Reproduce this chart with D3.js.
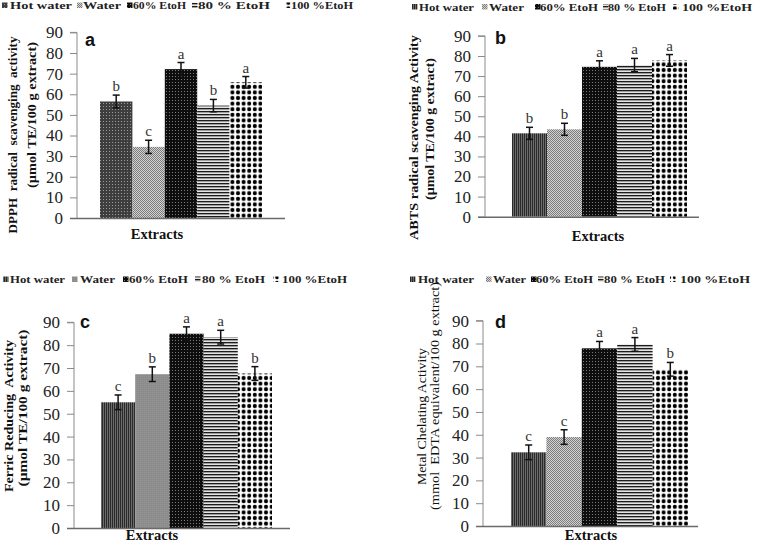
<!DOCTYPE html>
<html><head><meta charset="utf-8">
<script src="https://cdn.jsdelivr.net/npm/d3@7"></script>
<style>body{margin:0;background:#fff} svg{display:block} text{white-space:pre}</style>
</head><body><svg id="c" width="761" height="544"></svg>
<script>
// ---------- data ----------
const categories = ["Hot water", "Water", "60% EtoH", "80 % EtoH", "100 %EtoH"];
const yTicks = [0, 10, 20, 30, 40, 50, 60, 70, 80, 90];

const dpphValues = [56.5, 34.5, 72.2, 54.5, 65.8];
const dpphErrors = [3.1, 3.2, 3.2, 3.0, 2.8];
const dpphLetters = ["b", "c", "a", "b", "a"];

const abtsValues = [41.5, 43.5, 74.6, 75.5, 77.8];
const abtsErrors = [3.0, 3.0, 3.0, 3.3, 2.9];
const abtsLetters = ["b", "b", "a", "a", "a"];

const frapValues = [55.0, 67.3, 85.0, 83.5, 67.6];
const frapErrors = [3.2, 3.2, 3.0, 3.0, 3.0];
const frapLetters = ["c", "b", "a", "a", "b"];

const chelValues = [32.3, 39.0, 77.9, 79.6, 68.7];
const chelErrors = [3.2, 3.2, 3.0, 3.0, 3.0];
const chelLetters = ["c", "c", "a", "a", "b"];

const panelLetters = ["a", "b", "c", "d"];
const xTitle = "Extracts";
const yTitlesA = ["DPPH  radical  scavenging  activity", "(µmol TE/100 g extract)"];
const yTitlesB = ["ABTS radical scavenging Activity", "(µmol TE/100 g extract)"];
const yTitlesC = ["Ferric Reducing  Activity", "(µmol TE/100 g extract)"];
const yTitlesD = ["Metal Chelating Activity", "(mmol  EDTA equivalent/100 g extract)"];

// ---------- layout / style ----------
const svg = d3.select("#c");
const defs = svg.append("defs");
const serif = "'Liberation Serif','Times New Roman',serif";
const sans = "'Liberation Sans',Arial,sans-serif";

function pat(id, w, h, draw) {
  const p = defs.append("pattern").attr("id", id).attr("patternUnits", "userSpaceOnUse")
    .attr("width", w).attr("height", h);
  draw(p);
}
pat("hotA", 3, 3, p => { p.append("rect").attr("width", 3).attr("height", 3).attr("fill", "#3e3e3e");
  p.append("rect").attr("x", 1).attr("y", 1).attr("width", 1).attr("height", 1).attr("fill", "#9a9a9a"); });
pat("hotV", 2, 2, p => { p.append("rect").attr("width", 1).attr("height", 2).attr("fill", "#2a2a2a");
  p.append("rect").attr("x", 1).attr("width", 1).attr("height", 2).attr("fill", "#6c6c6c"); });
pat("waterChk", 2, 2, p => { p.append("rect").attr("width", 2).attr("height", 2).attr("fill", "#d2d2d2");
  p.append("rect").attr("width", 1).attr("height", 1).attr("fill", "#7c7c7c");
  p.append("rect").attr("x", 1).attr("y", 1).attr("width", 1).attr("height", 1).attr("fill", "#7c7c7c"); });
pat("waterSolid", 2, 2, p => { p.append("rect").attr("width", 2).attr("height", 2).attr("fill", "#8c8c8c");
  p.append("rect").attr("width", 1).attr("height", 1).attr("fill", "#959595"); });
pat("e60", 3, 3, p => { p.append("rect").attr("width", 3).attr("height", 3).attr("fill", "#0e0e0e");
  p.append("rect").attr("x", 1).attr("y", 1).attr("width", 1).attr("height", 1).attr("fill", "#7a7a7a"); });
pat("e80", 3, 3, p => { p.append("rect").attr("width", 3).attr("height", 3).attr("fill", "#e4e4e4");
  p.append("rect").attr("width", 3).attr("height", 1.2).attr("fill", "#1c1c1c");
  p.append("rect").attr("y", 1.2).attr("width", 3).attr("height", 0.6).attr("fill", "#888"); });
pat("e100", 5.6, 5.6, p => { p.append("rect").attr("width", 5.6).attr("height", 5.6).attr("fill", "#fff");
  p.append("circle").attr("cx", 2.8).attr("cy", 2.8).attr("r", 2.05).attr("fill", "#000"); });

const panels = [
  { values: dpphValues, errors: dpphErrors, letters: dpphLetters, titles: yTitlesA, titleBold: [true, true],
    fills: ["hotA", "waterChk", "e60", "e80", "e100"],
    ax: 77, y0: 218, y90: 32.4, barL: 100, barR: 262, xStart: 70, xEnd: 285,
    letterPos: [85, 46], extracts: [157, 239],
    t1: [12, 135, 197, 13.5], t2: [31, 115, 146, 13.5],
    legY: 9, leg: [[2, 10, 72], [77, 83, 121], [127, 133, 186], [192, 198, 270], [285, 291, 353]] },
  { values: abtsValues, errors: abtsErrors, letters: abtsLetters, titles: yTitlesB, titleBold: [true, true],
    fills: ["hotV", "waterChk", "e60", "e80", "e100"],
    ax: 485, y0: 216.7, y90: 35.9, barL: 512, barR: 687, xStart: 478, xEnd: 699,
    letterPos: [495, 44], extracts: [598, 240.5],
    t1: [413, 137.5, 205, 13.5], t2: [429, 129, 142, 13.5],
    legY: 10.5, leg: [[412, 419, 474], [482, 489, 524], [535, 540, 598], [603, 608, 666], [673, 682, 752]] },
  { values: frapValues, errors: frapErrors, letters: frapLetters, titles: yTitlesC, titleBold: [true, true],
    fills: ["hotV", "waterSolid", "e60", "e80", "e100"],
    ax: 74, y0: 528, y90: 322.3, barL: 101, barR: 272, xStart: 67, xEnd: 290,
    letterPos: [80, 328], extracts: [152, 540],
    t1: [8, 416, 152, 13.5], t2: [22, 408, 157, 13.5],
    legY: 283, leg: [[3, 10, 65], [72, 80, 115], [123, 129, 188], [195, 202, 265], [273, 282, 347]] },
  { values: chelValues, errors: chelErrors, letters: chelLetters, titles: yTitlesD, titleBold: [false, false],
    fills: ["hotV", "waterChk", "e60", "e80", "e100"],
    ax: 483, y0: 526, y90: 320.7, barL: 511, barR: 688, xStart: 476, xEnd: 698,
    letterPos: [495, 328], extracts: [591, 540],
    t1: [422, 416.5, 137, 12.5], t2: [435, 396, 228, 12.5],
    legY: 283, leg: [[410, 418, 474], [486, 493, 526], [531, 536, 593], [598, 604, 665], [670, 680, 750]] }
];

panels.forEach((P, pi) => {
  const g = svg.append("g");
  const y = d3.scaleLinear().domain([0, 90]).range([P.y0, P.y90]);
  const x = d3.scaleBand().domain(categories).range([P.barL, P.barR]).padding(0);

  // bars
  g.selectAll("rect.bar").data(categories).join("rect").attr("class", "bar")
    .attr("x", d => x(d)).attr("width", x.bandwidth())
    .attr("y", (d, i) => y(P.values[i])).attr("height", (d, i) => P.y0 - y(P.values[i]))
    .attr("fill", (d, i) => `url(#${P.fills[i]})`);

  // y axis
  const yAxis = d3.axisLeft(y).tickValues(yTicks).tickSize(7).tickPadding(7).tickFormat(d3.format("d"));
  const ag = g.append("g").attr("transform", `translate(${P.ax},0)`).call(yAxis)
    .attr("font-family", null).attr("font-size", null);
  ag.select(".domain").attr("stroke", "#8a8a8a").attr("d", `M-7,${P.y90}H0V${P.y0}`);
  ag.selectAll(".tick line").attr("stroke", "#8a8a8a");
  ag.selectAll(".tick text").style("font-family", serif).style("font-size", "17px").attr("fill", "#222");

  // x axis line
  g.append("line").attr("x1", P.xStart).attr("x2", P.xEnd).attr("y1", P.y0 + 0.5).attr("y2", P.y0 + 0.5)
    .attr("stroke", "#6a6a6a").attr("stroke-width", 1.5);

  // error bars
  const eb = g.selectAll("g.err").data(categories).join("g").attr("class", "err");
  eb.append("line").attr("x1", d => x(d) + x.bandwidth() / 2).attr("x2", d => x(d) + x.bandwidth() / 2)
    .attr("y1", (d, i) => y(P.values[i] + P.errors[i])).attr("y2", (d, i) => y(P.values[i] - P.errors[i]))
    .attr("stroke", "#111").attr("stroke-width", 1.5);
  [1, -1].forEach(s => {
    eb.append("line").attr("x1", d => x(d) + x.bandwidth() / 2 - 3.5).attr("x2", d => x(d) + x.bandwidth() / 2 + 3.5)
      .attr("y1", (d, i) => y(P.values[i] + s * P.errors[i])).attr("y2", (d, i) => y(P.values[i] + s * P.errors[i]))
      .attr("stroke", "#111").attr("stroke-width", 1.5);
  });
  eb.append("text").attr("x", d => x(d) + x.bandwidth() / 2)
    .attr("y", (d, i) => y(P.values[i] + P.errors[i]) - 4)
    .attr("text-anchor", "middle").style("font-family", serif).attr("font-size", 15).attr("fill", "#333")
    .text((d, i) => P.letters[i]);

  // panel letter
  g.append("text").attr("x", P.letterPos[0]).attr("y", P.letterPos[1]).style("font-family", sans)
    .attr("font-weight", "bold").attr("font-size", 18).attr("fill", "#111").text(panelLetters[pi]);

  // x title
  g.append("text").attr("x", P.extracts[0]).attr("y", P.extracts[1]).attr("text-anchor", "middle")
    .style("font-family", serif).attr("font-weight", "bold").attr("font-size", 14.5).attr("fill", "#111").text(xTitle);

  // y titles
  [P.t1, P.t2].forEach((t, k) => {
    g.append("text").attr("transform", `translate(${t[0]},${t[1]}) rotate(-90)`)
      .attr("text-anchor", "middle").attr("dominant-baseline", "central")
      .style("font-family", serif).attr("font-weight", P.titleBold[k] ? "bold" : "normal")
      .attr("font-size", t[3]).attr("fill", "#111")
      .attr("textLength", t[2]).attr("lengthAdjust", "spacingAndGlyphs")
      .text(P.titles[k]);
  });

  // legend
  const lg = g.append("g");
  categories.forEach((c, i) => {
    const L = P.leg[i];
    lg.append("rect").attr("x", L[0]).attr("y", P.legY - 6.5).attr("width", 5.5).attr("height", 5.5)
      .attr("fill", `url(#${P.fills[i]})`);
    lg.append("text").attr("x", L[1]).attr("y", P.legY).style("font-family", serif).attr("font-weight", "bold")
      .attr("font-size", 10.5).attr("fill", "#222").attr("textLength", L[2] - L[1]).attr("lengthAdjust", "spacingAndGlyphs")
      .text(c);
  });
});
</script></body></html>
